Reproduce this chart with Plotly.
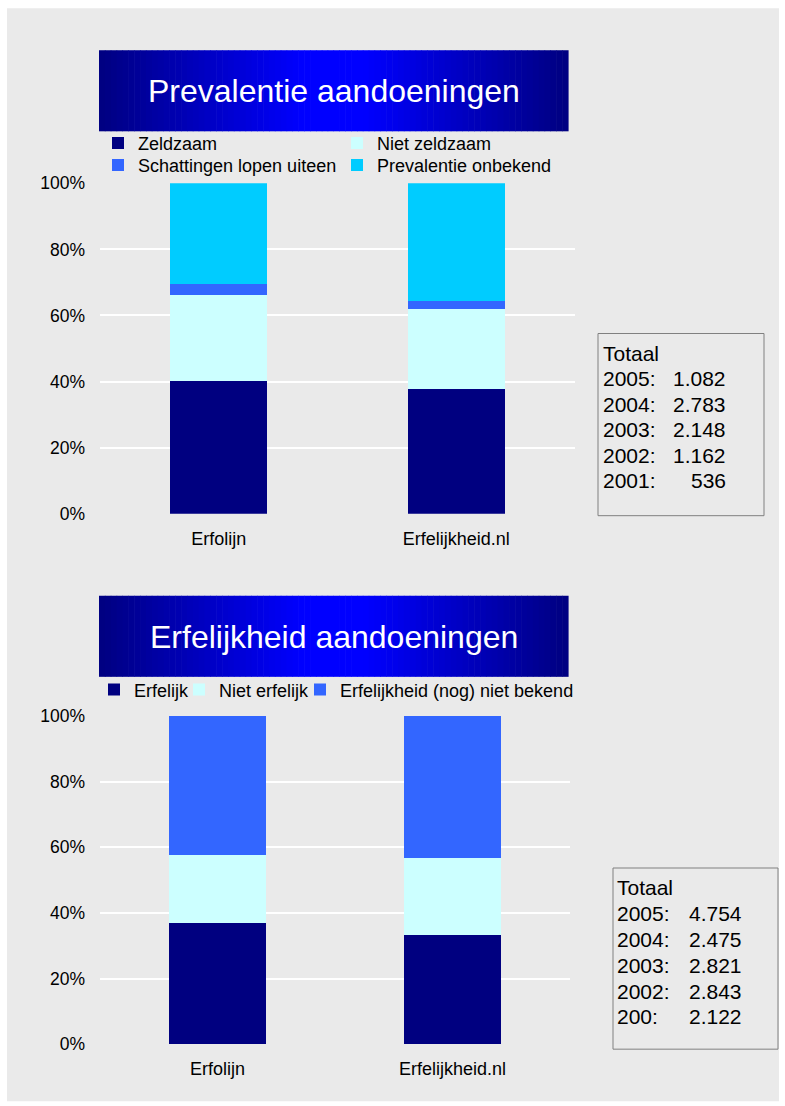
import plotly.graph_objects as go

W, H = 785, 1106

# ---- data ----
categories = ["Erfolijn", "Erfelijkheid.nl"]

prev_names = ["Zeldzaam", "Niet zeldzaam", "Schattingen lopen uiteen", "Prevalentie onbekend"]
prev_zeldzaam = [40.1, 37.6]
prev_niet_zeldzaam = [26.0, 24.5]
prev_schattingen = [3.3, 2.4]
prev_onbekend = [30.6, 35.5]

erf_names = ["Erfelijk", "Niet erfelijk", "Erfelijkheid (nog) niet bekend"]
erf_erfelijk = [36.8, 33.1]
erf_niet = [20.8, 23.6]
erf_onbekend = [42.4, 43.3]

totaal1_labels = ["2005:", "2004:", "2003:", "2002:", "2001:"]
totaal1_values = ["1.082", "2.783", "2.148", "1.162", "536"]
totaal2_labels = ["2005:", "2004:", "2003:", "2002:", "200:"]
totaal2_values = ["4.754", "2.475", "2.821", "2.843", "2.122"]

titles = ["Prevalentie aandoeningen", "Erfelijkheid aandoeningen"]

ytick_vals = [0, 20, 40, 60, 80, 100]
ytick_text = ["0%", "20%", "40%", "60%", "80%", "100%"]

# ---- styles ----
FONT = "Liberation Sans, Arial, sans-serif"
C_NAVY = "#000080"
C_LCYAN = "#CCFFFF"
C_BLUE = "#3366FF"
C_CYAN = "#00CCFF"
prev_colors = [C_NAVY, C_LCYAN, C_BLUE, C_CYAN]
erf_colors = [C_NAVY, C_LCYAN, C_BLUE]

# vertical placement correction (observed offset/scale of the photographed page)
Y_OFF, Y_SCALE = 9.8, 0.981


def px(x):
    return x / W


def py(y):
    return 1 - ((y - Y_OFF) / Y_SCALE) / H


fig = go.Figure()

prev_series = [prev_zeldzaam, prev_niet_zeldzaam, prev_schattingen, prev_onbekend]
prev_legends = ["legend", "legend", "legend2", "legend2"]
for name, vals, col, lg in zip(prev_names, prev_series, prev_colors, prev_legends):
    fig.add_trace(go.Bar(x=categories, y=vals, name=name, marker=dict(color=col, line=dict(width=0)),
                         xaxis="x", yaxis="y", legend=lg, hoverinfo="skip"))

erf_series = [erf_erfelijk, erf_niet, erf_onbekend]
erf_legends = ["legend3", "legend4", "legend5"]
for name, vals, col, lg in zip(erf_names, erf_series, erf_colors, erf_legends):
    fig.add_trace(go.Bar(x=categories, y=vals, name=name, marker=dict(color=col, line=dict(width=0)),
                         xaxis="x2", yaxis="y2", legend=lg, hoverinfo="skip"))

axis_common_y = dict(range=[0, 100], tickmode="array", tickvals=ytick_vals, ticktext=ytick_text,
                     showgrid=True, gridcolor="white", gridwidth=2, zeroline=False, showline=False,
                     tickfont=dict(family=FONT, size=17.5, color="black"), ticks="",
                     ticklabelstandoff=14, fixedrange=True)
axis_common_x = dict(showgrid=False, zeroline=False, showline=False, ticks="",
                     tickfont=dict(family=FONT, size=18, color="black"), ticklabelstandoff=12,
                     fixedrange=True)

shapes = []
# page background
shapes.append(dict(type="rect", xref="paper", yref="paper", x0=px(7), x1=px(779), y0=py(1100), y1=py(8),
                   fillcolor="#EAEAEA", line=dict(width=0), layer="below"))

# gradient banners
def banner(x0, x1, y0, y1, n=80):
    out = []
    step = (x1 - x0) / n
    for i in range(n):
        t = (i + 0.5) / n
        k = 1 - abs(2 * t - 1)
        b = int(round(128 + 127 * min(1.0, k * 1.15)))
        col = "rgb(0,0,%d)" % b
        out.append(dict(type="rect", xref="paper", yref="paper",
                        x0=px(x0 + i * step), x1=px(x0 + (i + 1) * step + 0.6),
                        y0=py(y1), y1=py(y0), fillcolor=col, line=dict(width=0), layer="below"))
    return out

shapes += banner(99, 568, 50, 131)
shapes += banner(99, 568, 595, 676)

# totaal boxes
shapes.append(dict(type="rect", xref="paper", yref="paper", x0=px(598), x1=px(764), y0=py(515), y1=py(333),
                   line=dict(color="#808080", width=1), fillcolor="rgba(0,0,0,0)"))
shapes.append(dict(type="rect", xref="paper", yref="paper", x0=px(613), x1=px(778), y0=py(1048), y1=py(867),
                   line=dict(color="#808080", width=1), fillcolor="rgba(0,0,0,0)"))

annotations = []
annotations.append(dict(text=titles[0], x=px(333.5), y=py(91), xref="paper", yref="paper", showarrow=False,
                        font=dict(family=FONT, size=32, color="white"), xanchor="center", yanchor="middle"))
annotations.append(dict(text=titles[1], x=px(333.5), y=py(636), xref="paper", yref="paper", showarrow=False,
                        font=dict(family=FONT, size=32, color="white"), xanchor="center", yanchor="middle"))


def totaal(labels, values, xl, xr, ys):
    out = [dict(text="Totaal", x=px(xl), y=py(ys[0]), xref="paper", yref="paper", showarrow=False,
                xanchor="left", yanchor="middle", font=dict(family=FONT, size=21, color="black"))]
    for lab, val, yy in zip(labels, values, ys[1:]):
        out.append(dict(text=lab, x=px(xl), y=py(yy), xref="paper", yref="paper", showarrow=False,
                        xanchor="left", yanchor="middle", font=dict(family=FONT, size=21, color="black")))
        out.append(dict(text=val, x=px(xr), y=py(yy), xref="paper", yref="paper", showarrow=False,
                        xanchor="right", yanchor="middle", font=dict(family=FONT, size=21, color="black")))
    return out

annotations += totaal(totaal1_labels, totaal1_values, 601, 728, [352.5, 378, 403.5, 429, 454.5, 480])
annotations += totaal(totaal2_labels, totaal2_values, 615, 744, [886.5, 912.5, 938, 964, 990, 1015.5])

leg_common = dict(orientation="h", bgcolor="rgba(0,0,0,0)", borderwidth=0,
                  font=dict(family=FONT, size=18, color="black"), xanchor="left", yanchor="middle",
                  traceorder="normal", itemclick=False, itemdoubleclick=False)

fig.update_layout(
    width=W, height=H, margin=dict(l=0, r=0, t=0, b=0),
    paper_bgcolor="white", plot_bgcolor="#CCCCFF",
    barmode="stack", bargap=0.59,
    showlegend=True,
    xaxis=dict(domain=[px(100), px(575)], anchor="y", **axis_common_x),
    yaxis=dict(domain=[py(513), py(183)], anchor="x", **axis_common_y),
    xaxis2=dict(domain=[px(100), px(570)], anchor="y2", **axis_common_x),
    yaxis2=dict(domain=[py(1043), py(715)], anchor="x2", **axis_common_y),
    legend=dict(x=px(98), y=py(143), entrywidth=194, entrywidthmode="pixels", **leg_common),
    legend2=dict(x=px(98), y=py(165), entrywidth=194, entrywidthmode="pixels", **leg_common),
    legend3=dict(x=px(94), y=py(689), **leg_common),
    legend4=dict(x=px(179), y=py(689), **leg_common),
    legend5=dict(x=px(300), y=py(689), **leg_common),
    shapes=shapes, annotations=annotations,
)

post_js = (
    "document.documentElement.style.margin='0';"
    "document.body.style.margin='0';document.body.style.padding='0';"
    "document.body.style.overflow='hidden';"
    "var gd=document.querySelector('.plotly-graph-div');"
    "gd.style.position='absolute';gd.style.left='0px';gd.style.top='0px';"
)

fig.write_html("out.html", config={"displayModeBar": False}, post_script=post_js)
